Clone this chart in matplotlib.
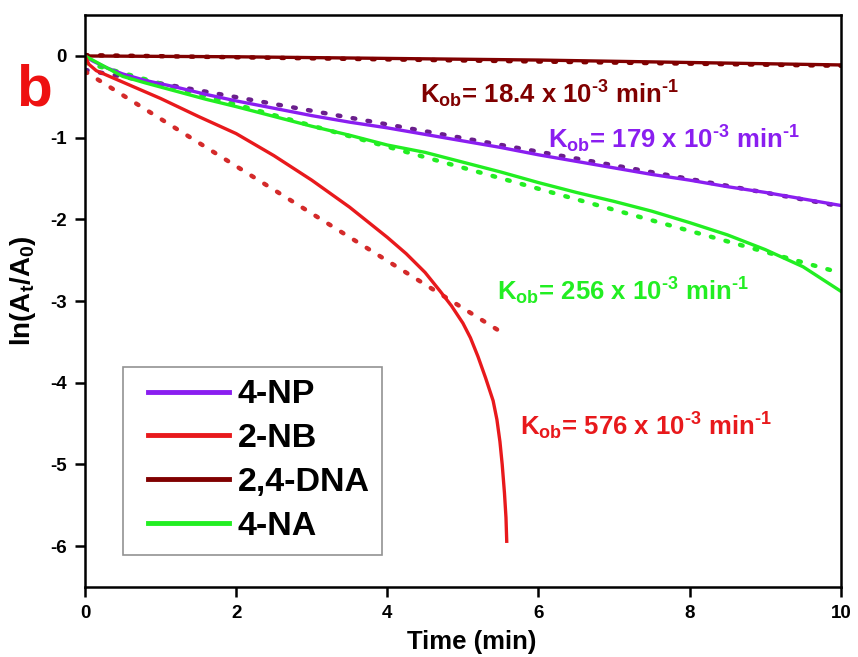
import matplotlib
matplotlib.use("Agg")
import matplotlib.pyplot as plt
import numpy as np

plt.rcParams['font.family'] = ['Liberation Sans', 'DejaVu Sans']
plt.rcParams['font.weight'] = 'bold'
plt.rcParams['mathtext.fontset'] = 'custom'
plt.rcParams['mathtext.rm'] = 'Liberation Sans:bold'
plt.rcParams['mathtext.it'] = 'Liberation Sans:bold'
plt.rcParams['mathtext.bf'] = 'Liberation Sans:bold'
plt.rcParams['mathtext.default'] = 'rm'
plt.rcParams['axes.unicode_minus'] = False

# ---- data ----
t_np = [0, 0.1, 0.3, 0.5, 0.8, 1.2, 1.6, 2.0, 2.5, 3.0, 3.5, 4.0, 4.5, 5.0,
        5.5, 6.0, 6.5, 7.0, 7.5, 8.0, 8.5, 9.0, 9.5, 10.0]
y_np = [0, -0.06, -0.15, -0.22, -0.30, -0.38, -0.47, -0.55, -0.64, -0.73,
        -0.81, -0.88, -0.96, -1.04, -1.12, -1.21, -1.29, -1.37, -1.45, -1.52,
        -1.60, -1.67, -1.75, -1.83]

t_na = [0, 0.1, 0.3, 0.5, 0.8, 1.2, 1.6, 2.0, 2.5, 3.0, 3.5, 4.0, 4.5, 5.0,
        5.5, 6.0, 6.5, 7.0, 7.5, 8.0, 8.5, 9.0, 9.5, 10.0]
y_na = [0, -0.05, -0.15, -0.25, -0.33, -0.43, -0.53, -0.62, -0.74, -0.86,
        -0.97, -1.09, -1.18, -1.30, -1.42, -1.55, -1.67, -1.78, -1.90, -2.04,
        -2.19, -2.37, -2.58, -2.88]

t_nb = [0, 0.05, 0.15, 0.5, 1.0, 1.5, 2.0, 2.5, 3.0, 3.5, 4.0, 4.25, 4.5,
        4.7, 4.85, 5.0, 5.1, 5.2, 5.3, 5.4, 5.45, 5.49, 5.52, 5.55, 5.57, 5.58]
y_nb = [0, -0.10, -0.18, -0.32, -0.52, -0.74, -0.95, -1.22, -1.52, -1.85,
        -2.22, -2.42, -2.65, -2.88, -3.06, -3.27, -3.45, -3.68, -3.94, -4.22,
        -4.45, -4.72, -5.00, -5.35, -5.65, -5.94]

t_dna = [0, 2, 4, 6, 8, 10]
y_dna = [0, -0.01, -0.03, -0.05, -0.08, -0.11]

# linear fits (dotted), start/end points
fit_np_t, fit_np_y = [0, 10], [-0.17, -1.84]
fit_na_t, fit_na_y = [0, 9.9], [-0.08, -2.63]
fit_nb_t, fit_nb_y = [0, 5.49], [-0.19, -3.37]
fit_dna_t, fit_dna_y = [0, 10], [0.01, -0.12]

labels = ['4-NP', '2-NB', '2,4-DNA', '4-NA']
k_texts = [r'K$_{ob}$= 18.4 x 10$^{\text{-3}}$ min$^{\text{-1}}$',
           r'K$_{ob}$= 179 x 10$^{\text{-3}}$ min$^{\text{-1}}$',
           r'K$_{ob}$= 256 x 10$^{\text{-3}}$ min$^{\text{-1}}$',
           r'K$_{ob}$= 576 x 10$^{\text{-3}}$ min$^{\text{-1}}$']
k_pos = [(4.43, -0.58), (6.12, -1.13), (5.45, -2.99), (5.75, -4.65)]

c_np = '#8A1EF0'
c_nb = '#E8191C'
c_dna = '#800000'
c_na = '#22EE22'
c_np_fit = '#6A1E8C'
c_nb_fit = '#D42A2A'

fig = plt.figure(figsize=(8.58, 6.57), dpi=100)
ax = fig.add_axes([0.099, 0.1065, 0.881, 0.8705])

dot = dict(linestyle=(0, (0.6, 2.8)), dash_capstyle='round', lw=3.2)
ax.plot(fit_dna_t, fit_dna_y, color=c_dna, **dot)
ax.plot(fit_np_t, fit_np_y, color=c_np_fit, **dot)
ax.plot(fit_na_t, fit_na_y, color=c_na, **dot)
ax.plot(fit_nb_t, fit_nb_y, color=c_nb_fit, **dot)

lw = 2.4
ax.plot(t_dna, y_dna, color=c_dna, lw=lw, label=labels[2])
ax.plot(t_np, y_np, color=c_np, lw=lw, label=labels[0])
ax.plot(t_na, y_na, color=c_na, lw=lw, label=labels[3])
ax.plot(t_nb, y_nb, color=c_nb, lw=lw, label=labels[1])

k_colors = [c_dna, c_np, c_na, c_nb]
for txt, (x, y), col in zip(k_texts, k_pos, k_colors):
    ax.text(x, y, txt, color=col, fontsize=18.5, fontweight='bold')

ax.set_xlim(0, 10)
ax.set_ylim(-6.5, 0.5)
ax.set_xticks([0, 2, 4, 6, 8, 10])
ax.set_yticks([0, -1, -2, -3, -4, -5, -6])
ax.tick_params(direction='out', length=7, width=1.8, labelsize=13.5,
               top=False, right=False, pad=6)
for lab in ax.get_xticklabels() + ax.get_yticklabels():
    lab.set_fontweight('bold')
for sp in ax.spines.values():
    sp.set_linewidth(1.8)

ax.set_xlabel('Time (min)', fontsize=18.5, fontweight='bold')
ax.xaxis.set_label_coords(0.512, -0.075)
ax.set_ylabel(r'ln(A$_t$/A$_0$)', fontsize=20, fontweight='bold')
ax.yaxis.set_label_coords(-0.062, 0.519)

ax.text(-0.067, 0.869, 'b', transform=ax.transAxes, color='#EE1111',
        fontsize=42, fontweight='bold', ha='center', va='center')

handles, labs = ax.get_legend_handles_labels()
order = [labs.index(l) for l in labels]
leg = ax.legend([handles[i] for i in order], [labs[i] for i in order],
                loc='upper left', bbox_to_anchor=(0.05, 0.385),
                prop={'weight': 'bold', 'size': 24.5},
                frameon=True, fancybox=False, edgecolor='#777777',
                handlelength=2.75, handletextpad=0.25, labelspacing=0.38,
                borderpad=0.37, borderaxespad=0)
leg.get_frame().set_linewidth(1.2)
for h in leg.get_lines():
    h.set_linewidth(3.5)
    xd = np.asarray(h.get_xdata(), dtype=float)
    x0, x1 = xd.min(), xd.max()
    h.set_xdata(np.linspace(x0 + (x1 - x0) * 0.14, x1, len(xd)))

fig.savefig('out.png', dpi=100)
